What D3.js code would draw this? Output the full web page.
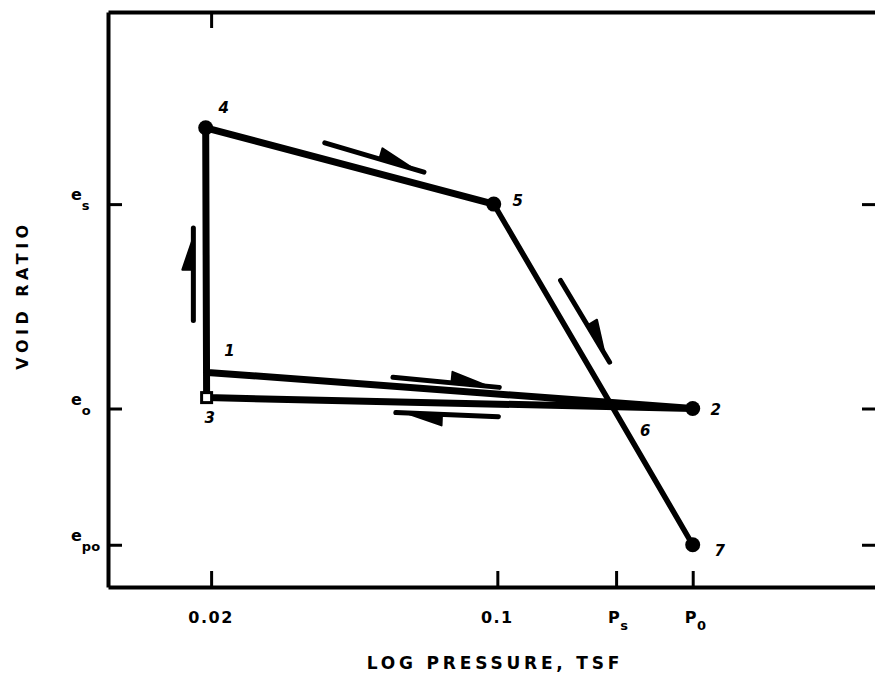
<!DOCTYPE html>
<html lang="en">
<head>
<meta charset="UTF-8">
<title>Void Ratio vs Log Pressure</title>
<script src="https://d3js.org/d3.v7.min.js"></script>
<style>
    body { margin: 0; background: #fff; }
    svg { font-family: "DejaVu Sans", sans-serif; font-weight: bold; }
</style>
</head>
<body>
<div id="chart"></div>
<script>
    // axis ticks
    var xTickValues = [0.02, 0.1, 0.195, 0.3];
    var xTickLabels = [["0.02", ""], ["0.1", ""], ["P", "s"], ["P", "0"]];
    var topTickValues = [0.02];
    var yTickValues = [1.10, 0.80, 0.60];
    var yTickLabels = [["e", "s"], ["e", "o"], ["e", "po"]];

    // stress path: pressure (tsf) and void ratio at each numbered point
    var pointNames = ["1", "2", "3", "4", "5", "6", "7"];
    var pointP = [0.0196, 0.3, 0.0195, 0.0194, 0.098, 0.192, 0.3];
    var pointE = [0.853, 0.80, 0.816, 1.212, 1.10, 0.80, 0.60];
    var dotNames = ["2", "4", "5", "7"];
    var squareNames = ["3"];

    // direction half-arrows (start -> end)
    var arrowP0 = [0.0379, 0.0181, 0.1427, 0.0556, 0.1006];
    var arrowE0 = [1.190, 0.929, 0.988, 0.846, 0.788];
    var arrowP1 = [0.0662, 0.0181, 0.188, 0.1011, 0.0565];
    var arrowE1 = [1.147, 1.065, 0.868, 0.831, 0.794];

    var svgWidth = 875, svgHeight = 677;
    var margin = {top: 12, left: 108, bottom: 90};
    var width = 772, height = svgHeight - margin.top - margin.bottom;

    var svg = d3.select("#chart").append("svg")
        .attr("width", svgWidth)
        .attr("height", svgHeight);

    var g = svg.append("g")
        .attr("transform", `translate(${margin.left},${margin.top})`);

    var x = d3.scaleLog().domain([0.0112, 0.86]).range([0, width]);
    var y = d3.scaleLinear().domain([0.538, 1.382]).range([height, 0]);

    // axes
    function styleAxis(sel) {
        sel.select(".domain").attr("stroke", "#000").attr("stroke-width", 4);
        sel.selectAll(".tick line").attr("stroke", "#000").attr("stroke-width", 3);
    }

    g.append("g")
        .attr("transform", `translate(0,${height})`)
        .call(d3.axisBottom(x).tickValues(xTickValues).tickSize(-16).tickSizeOuter(0).tickFormat(""))
        .call(styleAxis);

    g.append("g")
        .call(d3.axisTop(x).tickValues(topTickValues).tickSize(-16).tickSizeOuter(0).tickFormat(""))
        .call(styleAxis);

    g.append("g")
        .call(d3.axisLeft(y).tickValues(yTickValues).tickSize(-14).tickSizeOuter(0).tickFormat(""))
        .call(styleAxis);

    g.append("g")
        .attr("transform", `translate(${width},0)`)
        .call(d3.axisRight(y).tickValues(yTickValues).tickSize(-18).tickSizeOuter(0).tickFormat(""))
        .call(styleAxis);

    // tick labels with subscripts
    xTickValues.forEach(function(v, i) {
        var t = g.append("text")
            .attr("x", x(v))
            .attr("y", height + 36)
            .attr("text-anchor", xTickLabels[i][1] ? "start" : "middle")
            .attr("dx", xTickLabels[i][1] ? -8 : 0)
            .style("font-size", "16px")
            .style("letter-spacing", "1.5px")
            .text(xTickLabels[i][0]);
        if (xTickLabels[i][1]) {
            t.append("tspan").attr("dy", 7).attr("dx", -1).style("font-size", "13px").text(xTickLabels[i][1]);
        }
    });

    yTickValues.forEach(function(v, i) {
        var t = g.append("text")
            .attr("x", -37)
            .attr("y", y(v) - 4)
            .style("font-size", "16px")
            .text(yTickLabels[i][0]);
        t.append("tspan").attr("dy", 10).style("font-size", "13px").text(yTickLabels[i][1]);
    });

    svg.append("text")
        .attr("x", 495)
        .attr("y", 669)
        .attr("text-anchor", "middle")
        .style("font-size", "17px")
        .style("letter-spacing", "3.8px")
        .text("LOG PRESSURE, TSF");

    svg.append("text")
        .attr("transform", "translate(28,295) rotate(-90)")
        .attr("text-anchor", "middle")
        .style("font-size", "16px")
        .style("letter-spacing", "4.5px")
        .text("VOID RATIO");

    // stress path
    var pts = pointNames.map((n, i) => ({name: n, p: pointP[i], e: pointE[i]}));
    var byName = {};
    pts.forEach(d => byName[d.name] = d);

    var line = d3.line().x(d => x(d.p)).y(d => y(d.e));

    g.append("path")
        .datum(pts.slice(0, 5))
        .attr("d", line)
        .attr("fill", "none")
        .attr("stroke", "#000")
        .attr("stroke-width", 7)
        .attr("stroke-linejoin", "round");

    g.append("path")
        .datum(pts.slice(4))
        .attr("d", line)
        .attr("fill", "none")
        .attr("stroke", "#000")
        .attr("stroke-width", 5.5)
        .attr("stroke-linejoin", "round");

    g.selectAll(".dot")
        .data(dotNames.map(n => byName[n]))
        .join("circle")
        .attr("class", "dot")
        .attr("cx", d => x(d.p))
        .attr("cy", d => y(d.e))
        .attr("r", 7.5)
        .attr("fill", "#000");

    g.selectAll(".sq")
        .data(squareNames.map(n => byName[n]))
        .join("rect")
        .attr("class", "sq")
        .attr("x", d => x(d.p) - 5)
        .attr("y", d => y(d.e) - 5)
        .attr("width", 10)
        .attr("height", 10)
        .attr("fill", "#fff")
        .attr("stroke", "#000")
        .attr("stroke-width", 3);

    // point number offsets (px)
    var labelOffset = {"1": [22, -16], "2": [23, 6], "3": [3, 25], "4": [18, -15], "5": [24, 2], "6": [32, 27], "7": [27, 11]};

    g.selectAll(".plab")
        .data(pts)
        .join("text")
        .attr("class", "plab")
        .attr("x", d => x(d.p) + labelOffset[d.name][0])
        .attr("y", d => y(d.e) + labelOffset[d.name][1])
        .attr("text-anchor", "middle")
        .style("font-size", "15px")
        .style("font-style", "italic")
        .text(d => d.name);

    // half arrows
    arrowP0.forEach(function(p0, i) {
        var x0 = x(p0), y0 = y(arrowE0[i]), x1 = x(arrowP1[i]), y1 = y(arrowE1[i]);
        var dx = x1 - x0, dy = y1 - y0, len = Math.hypot(dx, dy);
        var nx = dy / len, ny = -dx / len;
        g.append("line")
            .attr("x1", x0).attr("y1", y0).attr("x2", x1).attr("y2", y1)
            .attr("stroke", "#000")
            .attr("stroke-width", 5)
            .attr("stroke-linecap", "round");
        var ta = 0.55, tb = 0.9;
        var ax = x0 + dx * ta, ay = y0 + dy * ta;
        g.append("path")
            .attr("d", `M${ax},${ay}L${ax + nx * 11},${ay + ny * 11}L${x0 + dx * tb},${y0 + dy * tb}Z`)
            .attr("fill", "#000")
            .attr("stroke", "#000")
            .attr("stroke-width", 2)
            .attr("stroke-linejoin", "round");
    });
</script>
</body>
</html>
